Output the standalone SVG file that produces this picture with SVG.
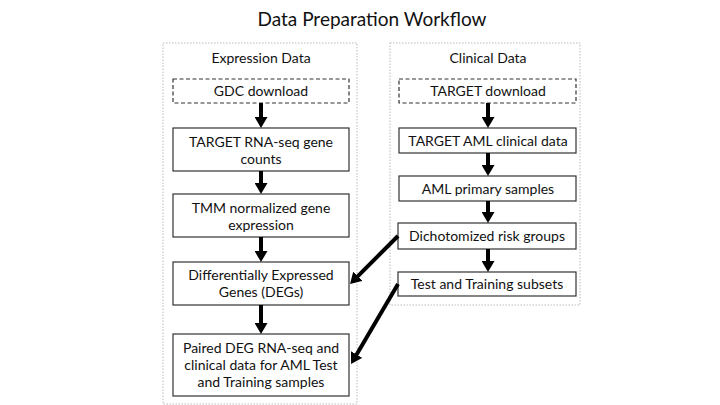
<svg xmlns="http://www.w3.org/2000/svg" width="720" height="405" viewBox="0 0 720 405">
<style>
.t{font-family:"Lato","Liberation Sans",sans-serif;font-size:14px;fill:#111;text-anchor:middle}
.title{font-family:"Lato","Liberation Sans",sans-serif;font-size:19px;fill:#111;text-anchor:middle}
.box{fill:#fff;stroke:#333;stroke-width:1.2}
.dbox{fill:#fff;stroke:#333;stroke-width:1.2;stroke-dasharray:4,2.5}
.cont{fill:none;stroke:#bbb;stroke-width:1;stroke-dasharray:1.5,1.5}
.arr{stroke:#000;stroke-width:4;fill:none;marker-end:url(#ah)}
</style>
<defs>
<marker id="ah" markerUnits="userSpaceOnUse" markerWidth="11" markerHeight="13" refX="2" refY="6.5" orient="auto">
<path d="M0,0 L11,6.5 L0,13 z" fill="#000"/>
</marker>
</defs>
<rect width="720" height="405" fill="#fff"/>
<text class="title" x="372" y="26">Data Preparation Workflow</text>

<g id="expression-container">
<rect class="cont" x="163" y="43" width="194" height="361"/>
<text class="t" x="261" y="63">Expression Data</text>
</g>
<g id="clinical-container">
<rect class="cont" x="390" y="43" width="190" height="262"/>
<text class="t" x="488" y="63">Clinical Data</text>
</g>

<g id="gdc-download">
<rect class="dbox" x="173" y="79" width="176" height="24"/>
<text class="t" x="261" y="96">GDC download</text>
</g>
<g id="target-rnaseq">
<rect class="box" x="173" y="128" width="176" height="43"/>
<text class="t" x="261" y="147">TARGET RNA-seq gene</text>
<text class="t" x="261" y="164">counts</text>
</g>
<g id="tmm">
<rect class="box" x="173" y="194" width="176" height="43"/>
<text class="t" x="261" y="213">TMM normalized gene</text>
<text class="t" x="261" y="230">expression</text>
</g>
<g id="degs">
<rect class="box" x="173" y="262" width="176" height="43"/>
<text class="t" x="261" y="280">Differentially Expressed</text>
<text class="t" x="261" y="297">Genes (DEGs)</text>
</g>
<g id="paired">
<rect class="box" x="173" y="334" width="176" height="62"/>
<text class="t" x="261" y="353">Paired DEG RNA-seq and</text>
<text class="t" x="261" y="370">clinical data for AML Test</text>
<text class="t" x="261" y="387">and Training samples</text>
</g>

<g id="target-download">
<rect class="dbox" x="399" y="79" width="177" height="24"/>
<text class="t" x="488" y="96">TARGET download</text>
</g>
<g id="target-aml-clinical">
<rect class="box" x="399" y="128" width="177" height="25"/>
<text class="t" x="488" y="145.5">TARGET AML clinical data</text>
</g>
<g id="aml-primary">
<rect class="box" x="399" y="176" width="177" height="25"/>
<text class="t" x="488" y="193.5">AML primary samples</text>
</g>
<g id="dichotomized">
<rect class="box" x="398" y="223" width="178" height="26"/>
<text class="t" x="487" y="241">Dichotomized risk groups</text>
</g>
<g id="test-training">
<rect class="box" x="398" y="272" width="178" height="24"/>
<text class="t" x="487" y="289">Test and Training subsets</text>
</g>

<g id="connectors">
<line class="arr" x1="261" y1="103" x2="261" y2="119"/>
<line class="arr" x1="261" y1="171" x2="261" y2="185"/>
<line class="arr" x1="261" y1="237" x2="261" y2="253"/>
<line class="arr" x1="261" y1="305" x2="261" y2="325"/>
<line class="arr" x1="488" y1="103" x2="488" y2="119"/>
<line class="arr" x1="488" y1="153" x2="488" y2="167"/>
<line class="arr" x1="488" y1="201" x2="488" y2="214"/>
<line class="arr" x1="488" y1="249" x2="488" y2="263"/>
<line class="arr" x1="398" y1="236" x2="356.4" y2="277.6"/>
<line class="arr" x1="398" y1="284" x2="355.6" y2="356.2"/>
</g>
</svg>
